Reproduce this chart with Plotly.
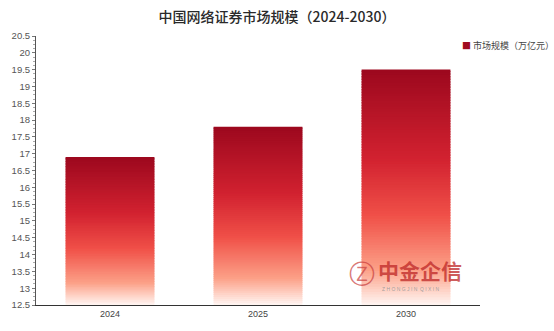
import plotly.graph_objects as go

years = ["2024", "2025", "2030"]
values = [16.9, 17.8, 19.5]
series_name = "市场规模（万亿元）"
title_text = "中国网络证券市场规模（2024-2030）"
y_min, y_max = 12.5, 20.5

# gradient stops (fraction from bottom of visible bar -> colour)
stops = [(0.0, (255, 246, 243)), (0.15, (252, 160, 135)), (0.38, (240, 80, 72)),
         (0.62, (210, 34, 48)), (1.0, (156, 8, 30))]

def interp(f):
    for (f0, c0), (f1, c1) in zip(stops[:-1], stops[1:]):
        if f0 <= f <= f1:
            t = (f - f0) / (f1 - f0)
            return "rgb(%d,%d,%d)" % tuple(round(a + (b - a) * t) for a, b in zip(c0, c1))
    return "rgb(%d,%d,%d)" % stops[-1][1]

N = 90
xs, bases, heights, colors = [], [], [], []
for yr, v in zip(years, values):
    h = (v - y_min) / N
    for i in range(N):
        xs.append(yr)
        bases.append(y_min + i * h)
        heights.append(h * 1.6 if i < N - 1 else h)
        colors.append(interp((i + 0.5) / N))

fig = go.Figure()
fig.add_trace(go.Bar(
    x=xs, y=heights, base=bases, name=series_name,
    marker=dict(color=colors, line=dict(width=0)),
    width=0.6, showlegend=False, hoverinfo="skip",
))

fig.update_layout(
    width=554, height=331,
    margin=dict(l=32, r=74, t=36, b=23),
    paper_bgcolor="white", plot_bgcolor="white",
    barmode="overlay",
    font=dict(family="Liberation Sans, Noto Sans CJK SC", size=9, color="#555555"),
    title=dict(text=title_text, x=0.5, xref="container", xanchor="center", y=0.948,
               yanchor="middle",
               font=dict(family="Noto Sans CJK SC", size=14, color="#2a2a2a", weight=500)),
    showlegend=False,
    xaxis=dict(type="category", showgrid=False, showline=True, linecolor="#333333",
               linewidth=1, ticks="", tickfont=dict(size=9, color="#444444")),
    yaxis=dict(range=[y_min, y_max], dtick=0.5, showgrid=False, zeroline=False,
               showline=True, linecolor="#555555", linewidth=1,
               ticks="outside", ticklen=3, tickcolor="#777777",
               tickfont=dict(size=9.5, color="#555555"),
               minor=dict(dtick=0.125, ticks="outside", ticklen=2, tickcolor="#aaaaaa")),
    annotations=[
        dict(text="<span style='color:#a00c1f'>■</span> " + series_name,
             xref="paper", yref="paper", x=0.955, y=0.965, xanchor="left", yanchor="middle",
             showarrow=False, font=dict(family="Noto Sans CJK SC", size=9, color="#444444")),
        dict(text="中金企信", xref="paper", yref="paper", x=0.765, y=0.13,
             xanchor="left", yanchor="middle", showarrow=False,
             font=dict(family="Noto Sans CJK SC", size=21, color="rgba(190,40,40,0.75)",
                       weight="bold")),
        dict(text="Z H O N G J I N  Q I X I N", xref="paper", yref="paper", x=0.775, y=0.06,
             xanchor="left", yanchor="middle", showarrow=False,
             font=dict(family="Liberation Sans", size=5, color="rgba(150,150,150,0.9)")),
        dict(text="Ⓩ", xref="paper", yref="paper", x=0.7, y=0.115,
             xanchor="left", yanchor="middle", showarrow=False,
             font=dict(family="DejaVu Sans", size=26, color="rgba(200,60,60,0.7)")),
    ],
)

fig.write_html("out.html")
